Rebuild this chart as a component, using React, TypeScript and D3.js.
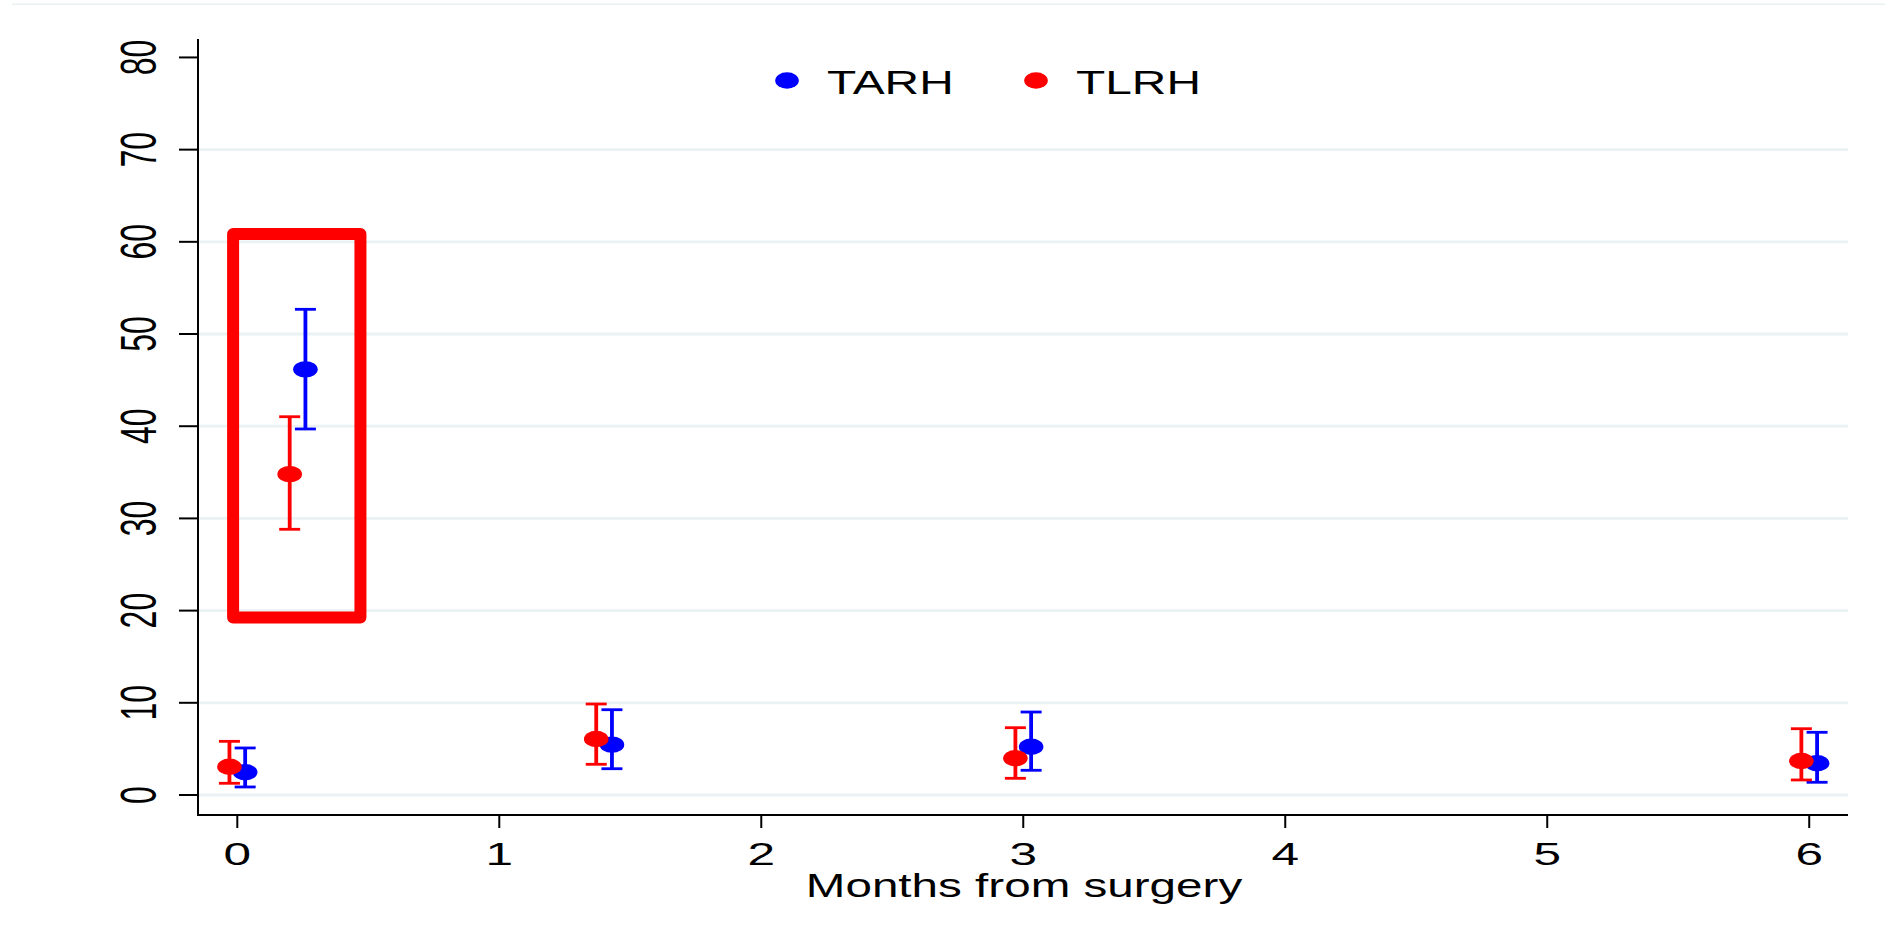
import React from "react";
import * as d3 from "d3";

// ---- data ----
const timepoints = [0, 0.23, 1.4, 3, 6];
const seriesNames = ["TARH", "TLRH"];
const seriesColors = ["#0000ff", "#ff0000"];
const seriesOffsets = [0.03, -0.03];

const tarhMean = [2.46, 46.17, 5.46, 5.24, 3.44];
const tarhLow = [0.87, 39.7, 2.85, 2.68, 1.38];
const tarhHigh = [5.1, 52.68, 9.25, 9.0, 6.8];

const tlrhMean = [3.07, 34.8, 6.07, 3.98, 3.69];
const tlrhLow = [1.27, 28.82, 3.33, 1.81, 1.63];
const tlrhHigh = [5.82, 41.03, 9.87, 7.3, 7.19];

const xTicks = [0, 1, 2, 3, 4, 5, 6];
const yTicks = [0, 10, 20, 30, 40, 50, 60, 70, 80];
const yGrid = [0, 10, 20, 30, 40, 50, 60, 70];

// highlight box (data units): x0, x1, y0, y1
const boxX = [-0.016, 0.47];
const boxY = [19.25, 60.85];

const xTitle = "Months from surgery";

// ---- layout ----
const W = 1885;
const H = 937;
const left = 198;
const right = 1848;
const top = 39;
const bottom = 815;
const FONT = "'Liberation Sans', Arial, Helvetica, sans-serif";
const SX = 1.55;

export default function App() {
  const x = d3.scaleLinear().domain([-0.15, 6.148]).range([left, right]);
  const y = d3.scaleLinear().domain([-2.17, 82]).range([bottom, top]);

  const series = [
    { mean: tarhMean, lo: tarhLow, hi: tarhHigh },
    { mean: tlrhMean, lo: tlrhLow, hi: tlrhHigh },
  ];

  const capHalf = 10.5;

  return (
    <svg
      width={W}
      height={H}
      style={{ position: "fixed", left: 0, top: 0, background: "#fff" }}
      fontFamily={FONT}
    >
      <rect x={0} y={0} width={W} height={H} fill="#fff" />
      {/* faint outer border line */}
      <line x1={12} x2={W} y1={4.3} y2={4.3} stroke="#e8f0f2" strokeWidth={1.6} />

      {/* gridlines */}
      {yGrid.map((v) => (
        <line key={"g" + v} x1={left} x2={right} y1={y(v)} y2={y(v)} stroke="#eaf2f3" strokeWidth={2.8} />
      ))}

      {/* axes */}
      <line x1={left} x2={left} y1={top} y2={bottom + 1} stroke="#000" strokeWidth={2} />
      <line x1={left - 1} x2={right} y1={bottom} y2={bottom} stroke="#000" strokeWidth={2} />

      {yTicks.map((v) => (
        <g key={"yt" + v}>
          <line x1={left - 19} x2={left} y1={y(v)} y2={y(v)} stroke="#000" strokeWidth={2} />
          <text
            transform={`translate(${156},${y(v)}) scale(${SX},1) rotate(-90)`}
            textAnchor="middle"
            fontSize={32}
            fill="#000"
          >
            {v}
          </text>
        </g>
      ))}

      {xTicks.map((v) => (
        <g key={"xt" + v}>
          <line x1={x(v)} x2={x(v)} y1={bottom} y2={bottom + 13} stroke="#000" strokeWidth={2} />
          <text
            transform={`translate(${x(v)},${865}) scale(${SX},1)`}
            textAnchor="middle"
            fontSize={32}
            fill="#000"
          >
            {v}
          </text>
        </g>
      ))}

      <text
        transform={`translate(${(left + right) / 2 + 1},${896.5}) scale(1.4,1)`}
        textAnchor="middle"
        fontSize={34}
        fill="#000"
      >
        {xTitle}
      </text>

      {/* data */}
      {series.map((s, si) => (
        <g key={"s" + si} stroke={seriesColors[si]} fill={seriesColors[si]}>
          {timepoints.map((t, i) => {
            const cx = x(t + seriesOffsets[si]);
            return (
              <g key={i}>
                <line x1={cx} x2={cx} y1={y(s.lo[i])} y2={y(s.hi[i])} strokeWidth={3.8} />
                <line x1={cx - capHalf} x2={cx + capHalf} y1={y(s.lo[i])} y2={y(s.lo[i])} strokeWidth={2.8} />
                <line x1={cx - capHalf} x2={cx + capHalf} y1={y(s.hi[i])} y2={y(s.hi[i])} strokeWidth={2.8} />
                <ellipse cx={cx} cy={y(s.mean[i])} rx={12.3} ry={8.2} stroke="none" />
              </g>
            );
          })}
        </g>
      ))}

      {/* highlight box */}
      <rect
        x={x(boxX[0])}
        y={y(boxY[1])}
        width={x(boxX[1]) - x(boxX[0])}
        height={y(boxY[0]) - y(boxY[1])}
        fill="none"
        stroke="#ff0000"
        strokeWidth={12}
        strokeLinejoin="round"
      />

      {/* legend */}
      {seriesNames.map((n, i) => {
        const lx = [787, 1036][i];
        return (
          <g key={"l" + n}>
            <ellipse cx={lx} cy={80.5} rx={11.8} ry={8.3} fill={seriesColors[i]} />
            <text
              transform={`translate(${lx + 40},${93.5}) scale(1.45,1)`}
              fontSize={33}
              fill="#000"
            >
              {n}
            </text>
          </g>
        );
      })}
    </svg>
  );
}
